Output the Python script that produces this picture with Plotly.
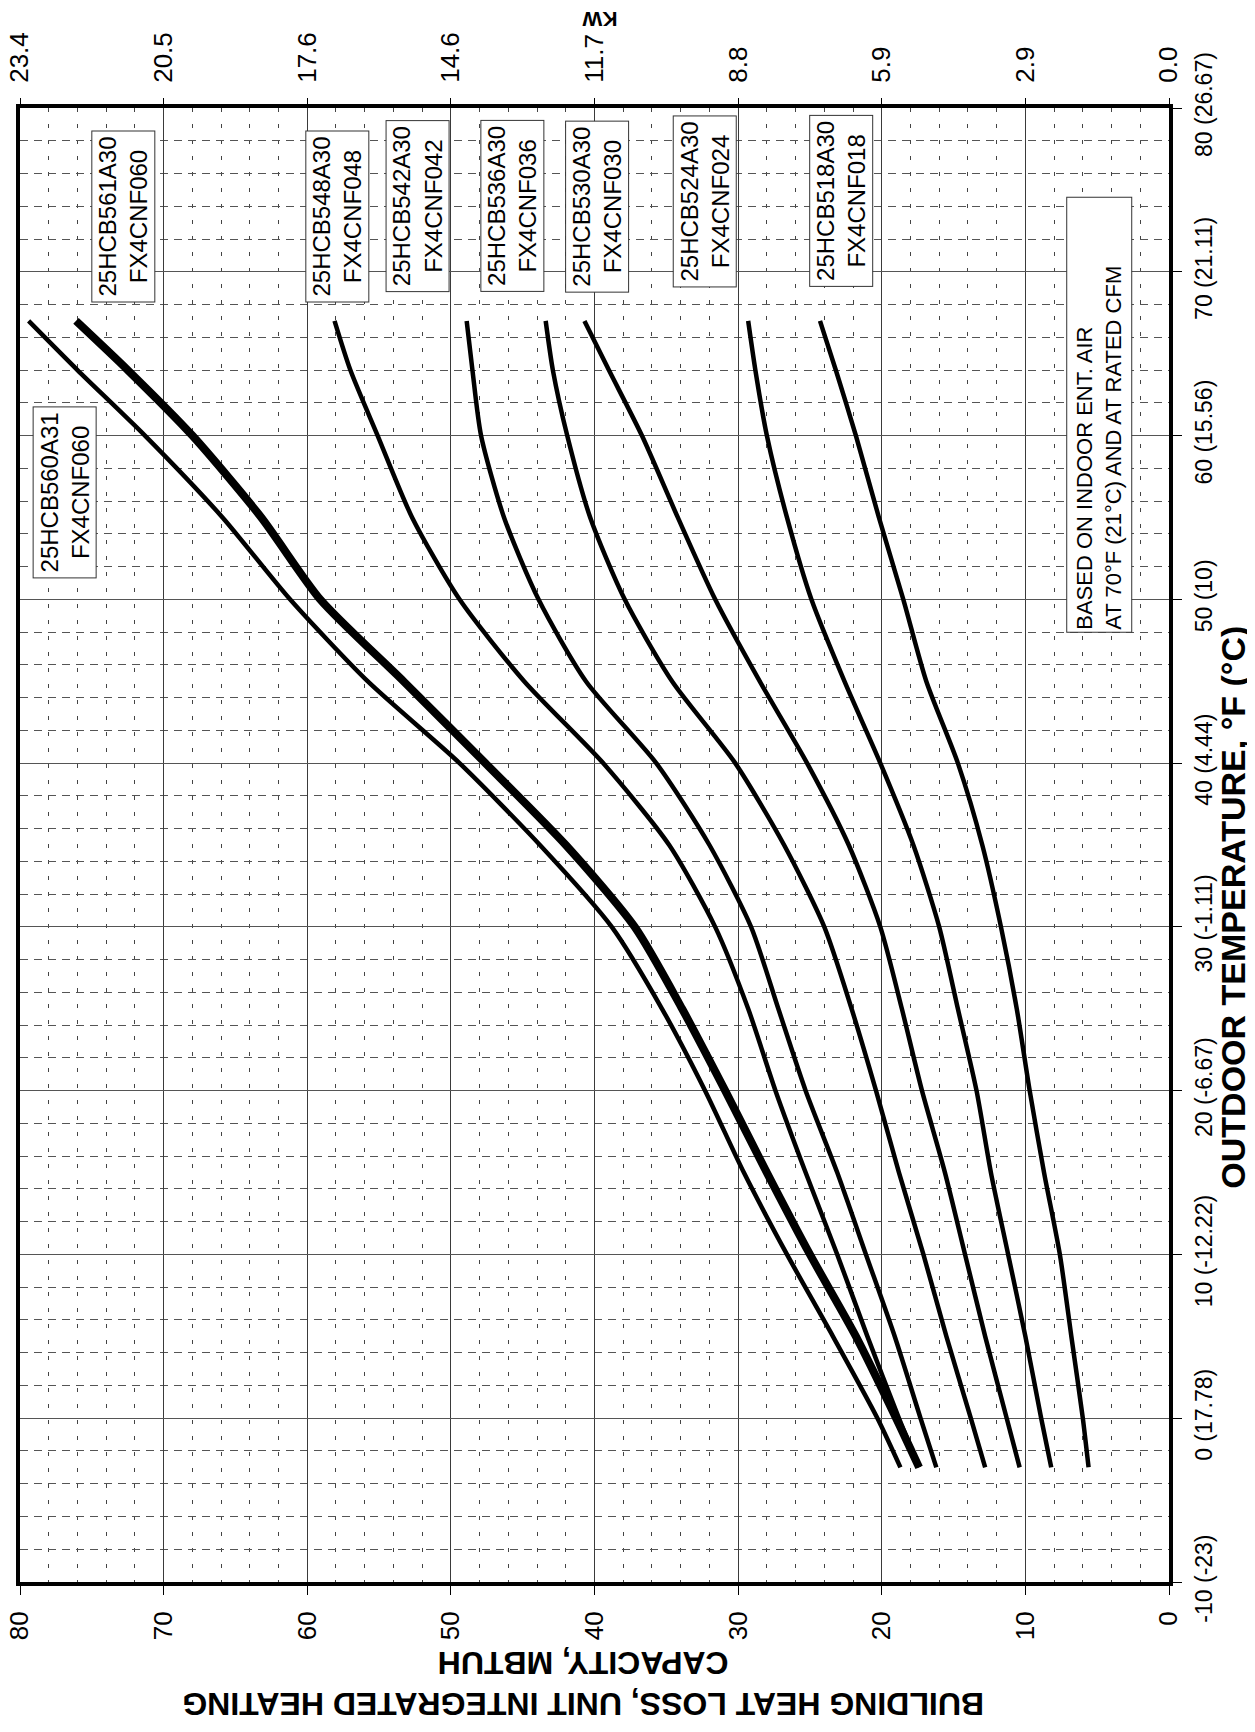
import plotly.graph_objects as go

# ---------------- data ----------------
temps = [-3, 0, 5, 10, 15, 20, 25, 30, 35, 40, 45, 50, 55, 60, 64, 67]

cap_560a31 = [18.7, 20.3, 23.4, 26.6, 29.6, 32.3, 35.3, 38.8, 43.8, 49.4, 55.8, 61.2, 65.9, 71.3, 76.0, 79.4]
cap_561a30 = [17.4, 19.0, 21.8, 25.0, 28.0, 30.9, 33.9, 37.2, 42.0, 47.6, 53.3, 59.1, 63.2, 68.0, 72.5, 76.1]
cap_548a30 = [17.4, 18.8, 21.0, 23.1, 25.3, 27.4, 29.3, 31.6, 34.8, 39.4, 44.9, 49.4, 52.7, 55.1, 57.0, 58.1]
cap_542a30 = [16.2, 17.3, 19.1, 21.1, 23.1, 25.3, 27.2, 29.1, 32.0, 35.7, 40.6, 43.9, 46.3, 47.9, 48.5, 48.9]
cap_536a30 = [12.8, 13.8, 15.5, 17.1, 18.8, 20.4, 22.1, 24.0, 26.8, 30.2, 34.6, 37.9, 40.3, 41.9, 42.9, 43.4]
cap_530a30 = [10.4, 11.3, 12.8, 14.2, 15.6, 17.2, 18.6, 20.1, 22.3, 25.2, 28.5, 31.6, 34.2, 36.7, 39.0, 40.7]
cap_524a30 = [8.2, 8.9, 10.0, 11.2, 12.4, 13.4, 14.7, 16.0, 17.8, 20.1, 22.6, 24.9, 26.6, 28.0, 28.8, 29.3]
cap_518a30 = [5.6, 6.0, 6.8, 7.6, 8.7, 9.7, 10.6, 11.7, 13.0, 14.7, 16.9, 18.5, 20.2, 21.8, 23.2, 24.3]

series_names = ["25HCB560A31<br>FX4CNF060", "25HCB561A30<br>FX4CNF060",
                "25HCB548A30<br>FX4CNF048", "25HCB542A30<br>FX4CNF042",
                "25HCB536A30<br>FX4CNF036", "25HCB530A30<br>FX4CNF030",
                "25HCB524A30<br>FX4CNF024", "25HCB518A30<br>FX4CNF018"]
series_values = [cap_560a31, cap_561a30, cap_548a30, cap_542a30,
                 cap_536a30, cap_530a30, cap_524a30, cap_518a30]

# label box anchor positions (capacity, temperature)
label_cap = [76.9, 72.8, 57.9, 52.3, 45.7, 39.8, 32.3, 22.8]
label_temp = [56.5, 73.4, 73.4, 74.0, 74.0, 74.0, 74.3, 74.3]

cap_ticks = [80, 70, 60, 50, 40, 30, 20, 10, 0]
kw_labels = ["23.4", "20.5", "17.6", "14.6", "11.7", "8.8", "5.9", "2.9", "0.0"]
temp_ticks = [-10, 0, 10, 20, 30, 40, 50, 60, 70, 80]
temp_labels = ["-10 (-23)", "0 (17.78)", "10 (-12.22)", "20 (-6.67)", "30 (-1.11)",
               "40 (4.44)", "50 (10)", "60 (15.56)", "70 (21.11)", "80 (26.67)"]

note_text = "BASED ON INDOOR ENT. AIR<br>AT 70°F (21°C) AND AT RATED CFM"

FONT = "Liberation Sans, Arial, Helvetica, sans-serif"

fig = go.Figure()

for i, (name, vals) in enumerate(zip(series_names, series_values)):
    width = 8 if i == 1 else 4.5
    fig.add_trace(go.Scatter(
        x=vals, y=temps, mode="lines", name=name.replace("<br>", " "),
        line=dict(color="black", width=width, shape="spline", smoothing=0.7),
        hoverinfo="skip", showlegend=False))

# invisible trace to carry the top (kW) axis
fig.add_trace(go.Scatter(x=[80, 0], y=[-10, -10], xaxis="x2", mode="lines",
                         line=dict(width=0, color="rgba(0,0,0,0)"),
                         hoverinfo="skip", showlegend=False))

minor_x = [v for v in range(0, 81, 2) if v % 10]
minor_y = [v for v in range(-10, 81, 2) if v % 10]

# page body has an 8px default margin, so the figure is sized/offset for it
fig.update_layout(
    width=1247, height=1716,
    margin=dict(l=12, r=86, t=100, b=142, autoexpand=False),
    plot_bgcolor="white", paper_bgcolor="white",
    font=dict(family=FONT, color="black"),
    showlegend=False,
    xaxis=dict(
        range=[80, 0], tickmode="array", tickvals=cap_ticks,
        ticktext=[str(v) for v in cap_ticks], automargin=False,
        ticklabeloverflow="allow",
        tickangle=-90, ticks="outside", ticklen=9, tickwidth=1, tickcolor="black",
        ticklabelstandoff=6,
        showline=True, mirror=True, linewidth=4, linecolor="black",
        showgrid=True, gridcolor="#3a3a3a", gridwidth=1, zeroline=False,
        tickfont=dict(size=26, family=FONT, color="black"),
        minor=dict(tickmode="array", tickvals=minor_x, showgrid=True,
                   gridcolor="#444444", gridwidth=1, griddash="4px,12px", ticks=""),
    ),
    xaxis2=dict(
        overlaying="x", side="top", range=[80, 0], tickmode="array",
        tickvals=cap_ticks, ticktext=kw_labels, tickangle=-90, automargin=False,
        ticklabeloverflow="allow",
        ticks="outside", ticklen=9, tickwidth=1, tickcolor="black",
        ticklabelstandoff=10,
        showgrid=False, zeroline=False, showline=False,
        tickfont=dict(size=26, family=FONT, color="black"),
    ),
    yaxis=dict(
        range=[-10, 80], side="right", tickmode="array", tickvals=temp_ticks,
        ticktext=temp_labels, tickangle=-90, ticks="outside", ticklen=9,
        tickwidth=1, tickcolor="black", ticklabelstandoff=2, automargin=False,
        ticklabeloverflow="allow",
        showline=True, mirror=True, linewidth=4, linecolor="black",
        showgrid=True, gridcolor="#555555", gridwidth=1, zeroline=False,
        tickfont=dict(size=23, family="Liberation Sans Narrow, " + FONT, color="black"),
        minor=dict(tickmode="array", tickvals=minor_y, showgrid=True,
                   gridcolor="#555555", gridwidth=1, griddash="8px,6px", ticks=""),
    ),
)

annotations = []
for name, cx, ty in zip(series_names, label_cap, label_temp):
    annotations.append(dict(
        x=cx, y=ty, xref="x", yref="y", text=name, showarrow=False,
        textangle=-90, xanchor="center", yanchor="middle",
        width=166, height=58, align="center",
        font=dict(size=24, family=FONT, color="black"),
        bgcolor="white", bordercolor="#333333", borderwidth=1, borderpad=2))

annotations.append(dict(
    x=4.84, y=61.3, xref="x", yref="y", text=note_text, showarrow=False,
    textangle=-90, xanchor="center", yanchor="middle",
    width=430, height=60, align="left",
    font=dict(size=22, family=FONT, color="black"),
    bgcolor="white", bordercolor="#333333", borderwidth=1, borderpad=2))

annotations.append(dict(
    x=0.49, y=-0.069, xref="paper", yref="paper",
    text="<b>BUILDING HEAT LOSS, UNIT INTEGRATED HEATING<br>CAPACITY, MBTUH</b>",
    showarrow=False, textangle=180, xanchor="center", yanchor="middle",
    font=dict(size=32, family=FONT, color="black")))

annotations.append(dict(
    x=1.0555, y=0.458, xref="paper", yref="paper",
    text="<b>OUTDOOR TEMPERATURE, °F (°C)</b>",
    showarrow=False, textangle=-90, xanchor="center", yanchor="middle",
    font=dict(size=34, family=FONT, color="black")))

annotations.append(dict(
    x=0.505, y=1.0605, xref="paper", yref="paper", text="<b>KW</b>",
    showarrow=False, textangle=180, xanchor="center", yanchor="middle",
    font=dict(size=21, family=FONT, color="black")))

fig.update_layout(annotations=annotations)

fig.write_html("out.html")
